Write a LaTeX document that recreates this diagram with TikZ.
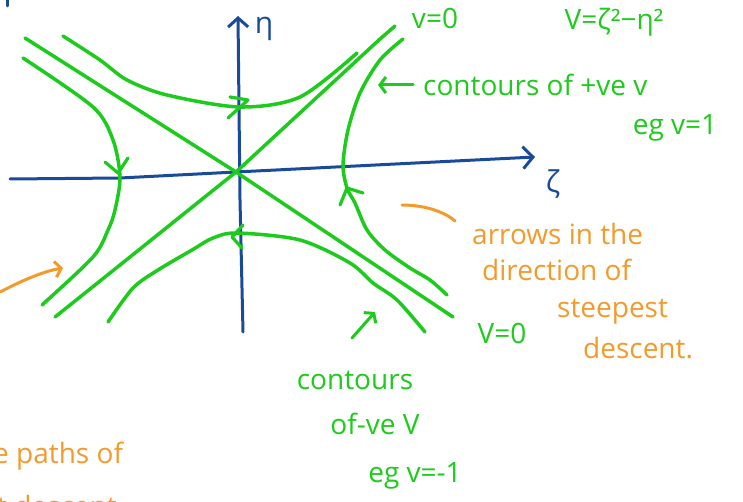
\documentclass[tikz,border=0pt]{standalone}
\usepackage{fontspec}
\setmainfont{Open Sans}
\usetikzlibrary{arrows.meta}
\definecolor{penblue}{HTML}{1A4B9B}
\definecolor{pengreen}{HTML}{1DCB1D}
\definecolor{penorange}{HTML}{F39A2A}

\begin{document}
\begin{tikzpicture}[
  x=1pt, y=-1pt,
  line cap=round, line join=round,
  axis/.style={draw=penblue, line width=3pt},
  contour/.style={draw=pengreen, line width=3.5pt},
  flow/.style={contour, line width=3.2pt},
  pointer/.style={line width=3pt},
  axislabel/.style={text=penblue, font=\fontsize{30}{32}\selectfont, inner sep=0pt},
  greennote/.style={text=pengreen, font=\fontsize{28}{30}\selectfont, inner sep=0pt},
  orangenote/.style={text=penorange, font=\fontsize{28}{30}\selectfont, inner sep=0pt, anchor=west}
]
\useasboundingbox (0,0) rectangle (743,502);
\clip (0,0) rectangle (743,502);

\coordinate (origin) at (236,172);
\coordinate (zetaend) at (535,157);
\coordinate (etaend) at (238,16);

\draw[axis, -{Straight Barb[length=10pt,width=22pt]}] (10,179) -- (120,178) -- (origin) -- (zetaend);
\draw[axis, -{Straight Barb[length=9pt,width=20pt]}] (243,332) -- (240,200) -- (etaend);
\draw[axis] (7,0) -- (7,6);
\node[axislabel] (zeta) at (553,184) {ζ};
\node[axislabel] (eta) at (264,29) {η};

\draw[contour] (25,38) -- (origin) -- (453,317);
\draw[contour] (55,317) -- (110,273) -- (origin) -- (380,39) -- (395,26);

\draw[contour] plot[smooth] coordinates {(23,58) (93,107) (113,140) (120,177) (115,210) (108,230) (93,257) (42,305)};
\draw[contour] plot[smooth] coordinates {(403,39) (380,60) (360,93) (348,130) (343,165) (347,188) (355,203) (367,230) (385,250) (410,268) (430,280) (447,295)};
\draw[contour] plot[smooth] coordinates {(63,36) (100,60) (127,80) (167,95) (240,107) (300,97) (357,53)};
\draw[contour] plot[smooth] coordinates {(108,322) (133,288) (158,270) (192,250) (213,238) (237,233) (300,240) (350,263) (373,283) (397,300) (425,332)};

\draw[flow] (230,97) -- (248,100) -- (228,118);
\draw[flow] (243,225) -- (232,237) -- (242,248);
\draw[flow] (105,162) -- (118,173) -- (128,158);
\draw[flow] (340,205) -- (347,188) -- (363,193);

\node[greennote] (vzerotop) at (435,18) {v=0};
\node[greennote] (vdef) at (614,22) {V=ζ²−η²};
\node[greennote, anchor=west] (poslabel) at (423,85) {contours of +ve v};
\node[greennote] (posex) at (675,128) {eg v=1};
\coordinate (postip) at (378,85);
\draw[contour, pointer, -{Straight Barb[length=6pt,width=16pt]}] (poslabel.west) ++(-10,0) -- (postip);

\node[greennote] (vzerobot) at (502,333) {V=0};
\node[greennote] (neglabel) at (355,380) {contours};
\node[greennote] (negsign) at (375,424) {of-ve V};
\node[greennote] (negex) at (415,476) {eg v=-1};
\coordinate (negtail) at (352,338);
\coordinate (negtip) at (375,312);
\draw[contour, pointer, -{Straight Barb[length=6pt,width=16pt]}] (negtail) -- (negtip);

\node[orangenote] (sdone) at (472,234) {arrows in the};
\node[orangenote] (sdtwo) at (482,270) {direction of};
\node[orangenote] (sdthree) at (557,312) {steepest};
\node[orangenote] (sdfour) at (583,348) {descent.};
\coordinate (flourishleft) at (402,205);
\draw[draw=penorange, pointer] (flourishleft) .. controls (425,205) and (445,212) .. (455,221);

\node[orangenote] (pathsone) at (-7,456) {e paths of};
\node[orangenote] (pathstwo) at (-3,506) {t descent};
\coordinate (lefttail) at (0,292);
\coordinate (lefttip) at (63,268);
\draw[draw=penorange, pointer, -{Straight Barb[length=6pt,width=16pt]}] (lefttail) .. controls (25,279) and (45,271) .. (lefttip);
\end{tikzpicture}
\end{document}
